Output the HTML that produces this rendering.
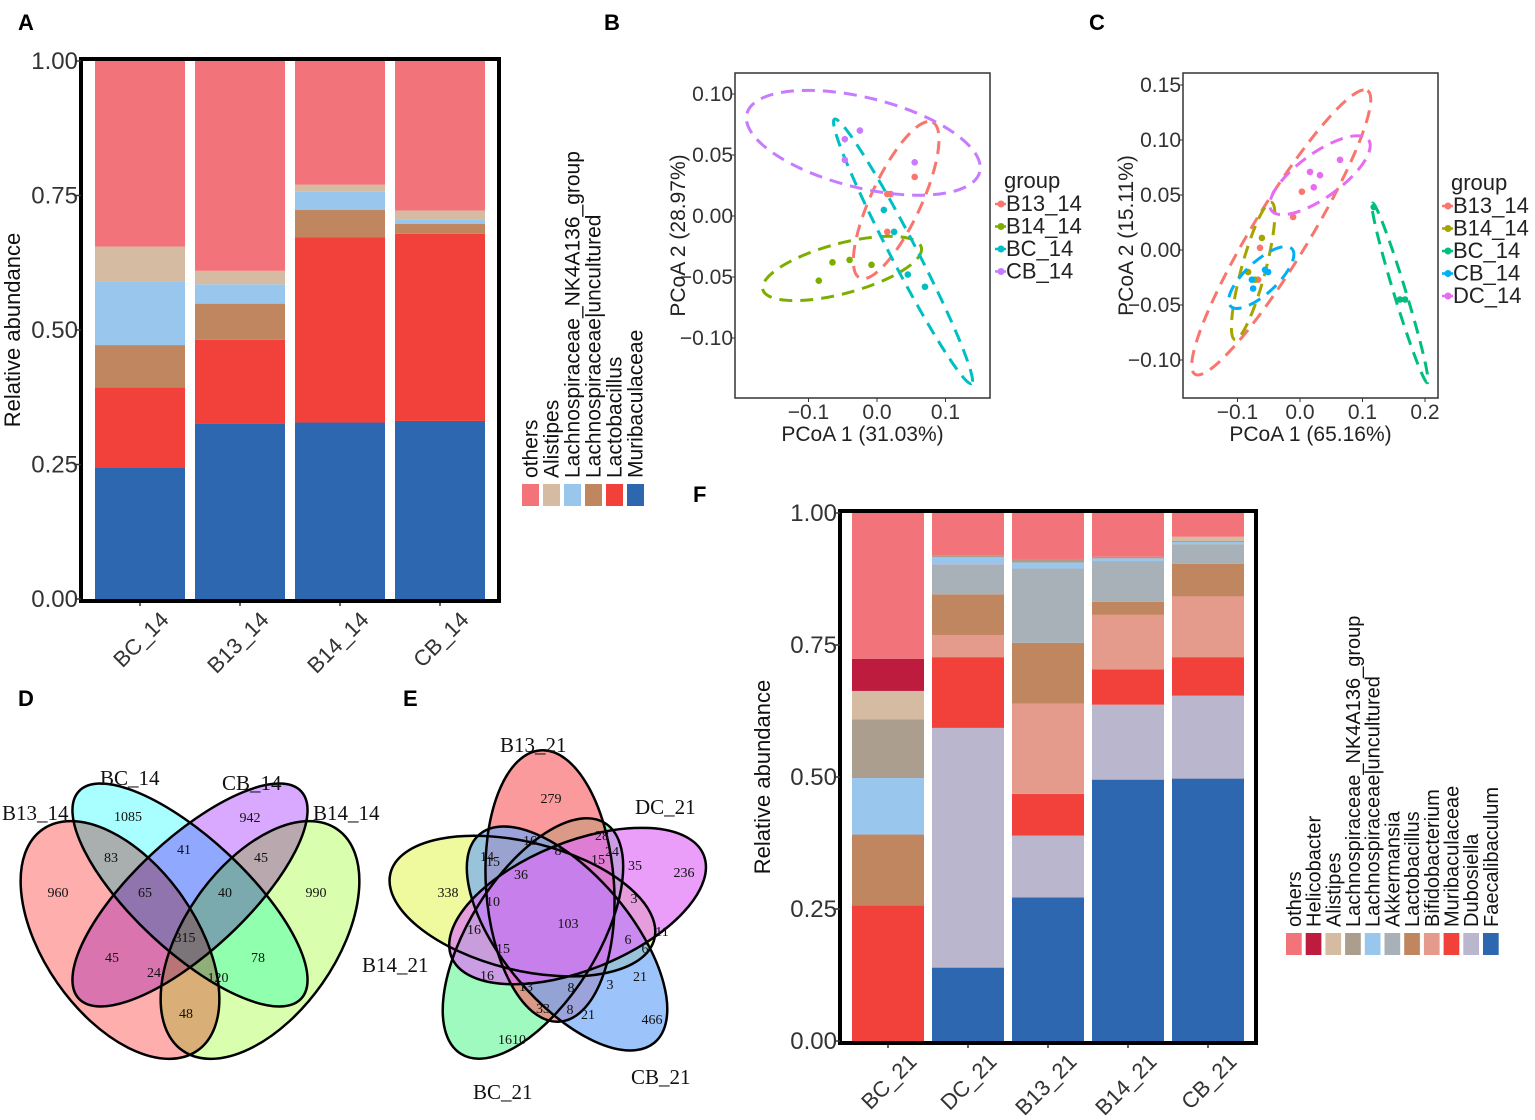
<!DOCTYPE html>
<html><head><meta charset="utf-8">
<style>
html,body{margin:0;padding:0;background:#fff;}
svg{display:block;font-family:"Liberation Sans",Arial,sans-serif;}
.serif{font-family:"Liberation Serif","Times New Roman",serif;}
.mult{mix-blend-mode:multiply;}
</style></head>
<body>
<svg id="fig" width="1535" height="1120" viewBox="0 0 1535 1120" xmlns="http://www.w3.org/2000/svg"></svg>
<script>
// ===== Panel A data =====
const aCats = ["BC_14","B13_14","B14_14","CB_14"];
const aSeries = ["Muribaculaceae","Lactobacillus","Lachnospiraceae|uncultured","Lachnospiraceae_NK4A136_group","Alistipes","others"];
const aMurib = [0.245,0.326,0.328,0.331];
const aLacto = [0.148,0.156,0.344,0.348];
const aLachUnc = [0.079,0.067,0.051,0.018];
const aLachNK = [0.118,0.036,0.034,0.009];
const aAlist = [0.065,0.025,0.013,0.016];
const aOthers = [0.345,0.390,0.230,0.278];
const yTicks = [0,0.25,0.5,0.75,1];
const yTickLabels = ["0.00","0.25","0.50","0.75","1.00"];
// ===== Panel F data =====
const fCats = ["BC_21","DC_21","B13_21","B14_21","CB_21"];
const fSeries = ["Faecalibaculum","Dubosiella","Muribaculaceae","Bifidobacterium","Lactobacillus","Akkermansia","Lachnospiraceae|uncultured","Lachnospiraceae_NK4A136_group","Alistipes","Helicobacter","others"];
const fFaecal = [0,0.139,0.272,0.495,0.497];
const fDubos = [0,0.454,0.117,0.142,0.157];
const fMurib = [0.257,0.134,0.079,0.067,0.073];
const fBifido = [0,0.042,0.171,0.103,0.115];
const fLacto = [0.134,0.077,0.115,0.025,0.062];
const fAkker = [0,0.057,0.141,0.077,0.037];
const fLachUnc = [0.107,0.013,0.011,0.005,0.004];
const fLachNK = [0.111,0.003,0.006,0.003,0.002];
const fAlist = [0.054,0,0,0,0.008];
const fHelico = [0.061,0,0,0,0];
const fOthers = [0.276,0.081,0.088,0.083,0.045];
// ===== Panel B data (PCoA) =====
const bGroups = ["B13_14","B14_14","BC_14","CB_14"];
const bX_B13 = [0.015,0.020,0.055,0.015];
const bY_B13 = [0.018,0.018,0.032,-0.013];
const bX_B14 = [-0.085,-0.065,-0.040,-0.008];
const bY_B14 = [-0.053,-0.038,-0.036,-0.040];
const bX_BC = [0.010,0.025,0.045,0.070];
const bY_BC = [0.005,-0.013,-0.048,-0.058];
const bX_CB = [-0.047,-0.025,-0.047,0.055];
const bY_CB = [0.063,0.070,0.046,0.044];
const bEllCx = [0.028,-0.051,0.038,-0.020];
const bEllCy = [0.013,-0.043,-0.029,0.060];
const bXTicks = [-0.1,0,0.1];
const bXTickLabels = ["\u22120.1","0.0","0.1"];
const bYTicks = [0.1,0.05,0,-0.05,-0.1];
const bYTickLabels = ["0.10","0.05","0.00","\u22120.05","\u22120.10"];
// ===== Panel C data (PCoA) =====
const cGroups = ["B13_14","B14_14","BC_14","CB_14","DC_14"];
const cX_B13 = [0.003,-0.011,-0.064,-0.067];
const cY_B13 = [0.053,0.030,0.002,-0.027];
const cX_B14 = [-0.061,-0.083,-0.072];
const cY_B14 = [0.011,-0.020,-0.027];
const cX_BC = [0.160,0.168,0.118];
const cY_BC = [-0.045,-0.045,0.039];
const cX_CB = [-0.056,-0.051,-0.077,-0.075];
const cY_CB = [-0.018,-0.020,-0.027,-0.035];
const cX_DC = [0.064,0.016,0.032,0.022];
const cY_DC = [0.082,0.071,0.068,0.057];
const cEllCx = [-0.030,-0.075,0.160,-0.062,0.032];
const cEllCy = [0.016,-0.019,-0.039,-0.025,0.068];
const cXTicks = [-0.1,0,0.1,0.2];
const cXTickLabels = ["\u22120.1","0.0","0.1","0.2"];
const cYTicks = [0.15,0.1,0.05,0,-0.05,-0.1];
const cYTickLabels = ["0.15","0.10","0.05","0.00","\u22120.05","\u22120.10"];

const NS="http://www.w3.org/2000/svg";
const svg=document.getElementById('fig');
function mk(tag,attrs,parent){const e=document.createElementNS(NS,tag);for(const k in attrs)e.setAttribute(k,attrs[k]);(parent||svg).appendChild(e);return e;}
function txt(x,y,s,size,extra,parent){const t=mk('text',Object.assign({x:x,y:y,'font-size':size,fill:'#222'},extra||{}),parent);t.textContent=s;return t;}

[["A",18,30],["B",604,30],["C",1089,30],["D",18,706],["E",403,706],["F",693,502]].forEach(p=>{
  const t=txt(p[1],p[2],p[0],22,{'font-weight':'bold',fill:'#000'});
  
  
});

function stacked(opt){
  const g=mk('g',{});
  
  
  const y=v=>opt.y0-v*(opt.y0-opt.y1);
  const band=(opt.r1-opt.r0)/opt.cats.length;
  const xc=i=>opt.r0+band*(i+0.5);
  opt.cats.forEach((c,i)=>{
    let acc=0;
    opt.series.forEach((s,si)=>{
      const v=opt.vals[si][i];
      if(v>0){
        const r=mk('rect',{x:xc(i)-opt.bw/2,y:y(acc+v),width:opt.bw,height:Math.max(0,y(acc)-y(acc+v)),fill:opt.colors[si]},g);
        
        
      }
      acc+=v;
    });
    mk('line',{x1:xc(i),x2:xc(i),y1:opt.y0+2,y2:opt.y0+7,stroke:'#333','stroke-width':1.5},g);
    const t=txt(0,0,c,22,{'text-anchor':'end',transform:`translate(${xc(i)+30},${opt.y0+22}) rotate(-45)`,fill:'#333'},g);
    
    
  });
  const fr=mk('rect',{x:opt.x0,y:opt.y1-2,width:opt.x1-opt.x0,height:opt.y0-opt.y1+4,fill:'none',stroke:'#000','stroke-width':4},g);
  
  
  yTicks.forEach((v,i)=>{
    mk('line',{x1:opt.x0-5,x2:opt.x0,y1:y(v),y2:y(v),stroke:'#333','stroke-width':1.5},g);
    const t=txt(opt.x0-3,y(v)+8,yTickLabels[i],24,{'text-anchor':'end',fill:'#333'},g);
    
    
  });
  const yt=txt(0,0,"Relative abundance",22,{'text-anchor':'middle',transform:`translate(${opt.ytx},${(opt.y0+opt.y1)/2}) rotate(-90)`,fill:'#111'},g);
  
  
  const lg=mk('g',{},g);
  
  
  const n=opt.series.length;
  for(let k=0;k<n;k++){
    const si=n-1-k;
    const lx=opt.lx+k*opt.lstep;
    const r=mk('rect',{x:lx,y:opt.ly,width:opt.lstep-4,height:22,fill:opt.colors[si]},lg);
    
    
    const t=txt(0,0,opt.labels[si],opt.lfs,{transform:`translate(${lx+(opt.lstep-4)/2+7},${opt.ly-6}) rotate(-90)`,fill:'#111'},lg);
    
    
  }
}
stacked({name:'panel-a-stacked-bar',cats:aCats,series:aSeries,
  labels:["Muribaculaceae","Lactobacillus","Lachnospiraceae|uncultured","Lachnospiraceae_NK4A136_group","Alistipes","others"],
  vals:[aMurib,aLacto,aLachUnc,aLachNK,aAlist,aOthers],
  colors:["#2C67AF","#F2403B","#C08660","#99C6EC","#D4BBA2","#F2737A"],
  x0:81,x1:499,r0:90,r1:490,y0:599,y1:61,bw:90,ytx:20,lx:522,lstep:21,ly:484,lfs:21});
stacked({name:'panel-f-stacked-bar',cats:fCats,series:fSeries,
  labels:fSeries,
  vals:[fFaecal,fDubos,fMurib,fBifido,fLacto,fAkker,fLachUnc,fLachNK,fAlist,fHelico,fOthers],
  colors:["#2C67AF","#BAB6CE","#F2403B","#E59B8C","#C08660","#A8B1B7","#99C6EC","#AC9E8E","#D4BBA2","#BD1C3F","#F2737A"],
  x0:840,x1:1256,r0:848,r1:1248,y0:1041,y1:513,bw:72,ytx:770,lx:1286,lstep:19.7,ly:933,lfs:20});

function pcoa(opt){
  const g=mk('g',{});
  
  
  const X=v=>opt.ox+v*opt.sx, Y=v=>opt.oy-v*opt.sy;
  const fr=mk('rect',{x:opt.fx0,y:opt.fy0,width:opt.fx1-opt.fx0,height:opt.fy1-opt.fy0,fill:'#fff',stroke:'#333','stroke-width':1.5},g);
  
  
  opt.groups.forEach((gr,i)=>{
    const e=opt.ell[i];
    const el=mk('ellipse',{cx:X(opt.ecx[i]),cy:Y(opt.ecy[i]),rx:e[0],ry:e[1],transform:`rotate(${e[2]} ${X(opt.ecx[i])} ${Y(opt.ecy[i])})`,fill:'none',stroke:opt.colors[i],'stroke-width':3,'stroke-dasharray':'13 8'},g);
    
    
    opt.xs[i].forEach((xv,j)=>{
      const c=mk('circle',{cx:X(xv),cy:Y(opt.ys[i][j]),r:3.3,fill:opt.colors[i]},g);
      
      
    });
  });
  opt.xt.forEach((v,i)=>{
    mk('line',{x1:X(v),x2:X(v),y1:opt.fy1,y2:opt.fy1+4,stroke:'#333'},g);
    const t=txt(X(v),opt.fy1+21,opt.xtl[i],21,{'text-anchor':'middle',fill:'#333'},g);
    
    
  });
  opt.yt.forEach((v,i)=>{
    mk('line',{x1:opt.fx0-4,x2:opt.fx0,y1:Y(v),y2:Y(v),stroke:'#333'},g);
    const t=txt(opt.fx0-2,Y(v)+7,opt.ytl[i],21,{'text-anchor':'end',fill:'#333'},g);
    
    
  });
  const xt=txt((opt.fx0+opt.fx1)/2,opt.fy1+43,opt.xtitle,21,{'text-anchor':'middle',fill:'#222'},g);
  
  
  const yt=txt(0,0,opt.ytitle,21,{'text-anchor':'middle',transform:`translate(${opt.fx0-50},${(opt.fy0+opt.fy1)/2}) rotate(-90)`,fill:'#222'},g);
  
  
  const lg=mk('g',{},g);
  
  
  txt(opt.lx,opt.ly,'group',22,{fill:'#222'},lg);
  opt.groups.forEach((gr,i)=>{
    const yy=opt.ly+23+i*22.5;
    mk('line',{x1:opt.lx-9,x2:opt.lx+2,y1:yy-7,y2:yy-7,stroke:opt.colors[i],'stroke-width':2.5},lg);
    mk('circle',{cx:opt.lx-3,cy:yy-7,r:3.5,fill:opt.colors[i]},lg);
    const t=txt(opt.lx+2,yy,gr,22,{fill:'#222'},lg);
    
    
  });
}
pcoa({name:'panel-b-pcoa',groups:bGroups,colors:["#F8766D","#7CAE00","#00BFC4","#C77CFF"],
  xs:[bX_B13,bX_B14,bX_BC,bX_CB],ys:[bY_B13,bY_B14,bY_BC,bY_CB],ecx:bEllCx,ecy:bEllCy,
  ell:[[86,25,-65],[82,25,-15],[149,13,62.6],[120,45,14]],
  ox:877,sx:685,oy:216,sy:1220,fx0:735,fx1:990,fy0:73,fy1:398,
  xt:bXTicks,xtl:bXTickLabels,yt:bYTicks,ytl:bYTickLabels,
  xtitle:"PCoA 1 (31.03%)",ytitle:"PCoA 2 (28.97%)",lx:1004,ly:188});
pcoa({name:'panel-c-pcoa',groups:cGroups,colors:["#F8766D","#A3A500","#00BF7D","#00B0F6","#E76BF3"],
  xs:[cX_B13,cX_B14,cX_BC,cX_CB,cX_DC],ys:[cY_B13,cY_B14,cY_BC,cY_CB,cY_DC],ecx:cEllCx,ecy:cEllCy,
  ell:[[166,28,-58.7],[71,12,-75],[94,6,73],[42,16,-43],[60,22,-36]],
  ox:1300,sx:625,oy:250,sy:1100,fx0:1183,fx1:1438,fy0:73,fy1:398,
  xt:cXTicks,xtl:cXTickLabels,yt:cYTicks,ytl:cYTickLabels,
  xtitle:"PCoA 1 (65.16%)",ytitle:"PCoA 2 (15.11%)",lx:1451,ly:190});

// ---- Venn D
(function(){
  const g=mk('g',{class:'serif'});
  
  
  const sets=[["B13_14",120,940,135,76,55,"#FF7878"],["B14_14",260,940,135,76,-55,"#C0FF78"],["BC_14",190,895,152,56,43,"#70FFFF"],["CB_14",190,895,152,56,-43,"#C070FF"]];
  const fg=mk('g',{style:'isolation:isolate'},g);
  sets.forEach(s=>{
    const e=mk('ellipse',{cx:s[1],cy:s[2],rx:s[3],ry:s[4],transform:`rotate(${s[5]} ${s[1]} ${s[2]})`,fill:s[6],'fill-opacity':0.6,class:'mult'},fg);
    
    
  });
  sets.forEach(s=>mk('ellipse',{cx:s[1],cy:s[2],rx:s[3],ry:s[4],transform:`rotate(${s[5]} ${s[1]} ${s[2]})`,fill:'none',stroke:'#000','stroke-width':2.5},g));
  [["B13_14",2,820],["BC_14",100,785],["CB_14",222,790],["B14_14",313,820]].forEach(l=>{
    const t=txt(l[1],l[2],l[0],21,{fill:'#111'},g);
    
    
  });
  [["960",58,897],["1085",128,821],["83",111,862],["41",184,854],["942",250,822],["45",261,862],["65",145,897],["40",225,897],["990",316,897],["315",185,942],["45",112,962],["78",258,962],["24",154,977],["120",218,982],["48",186,1018]].forEach(n=>{
    const t=txt(n[1],n[2],n[0],14,{'text-anchor':'middle',fill:'#111'},g);
    
    
  });
})();

// ---- Venn E
(function(){
  const g=mk('g',{class:'serif'});
  
  
  const names=["B13_21","DC_21","CB_21","BC_21","B14_21"];
  const cols=["#F86A6E","#E070F8","#6FA8F8","#70F8A0","#E8F870"];
  const order=[4,3,0,2,1];
  const P=[550,915],d=29;
  const geo=names.map((n,i)=>{const th=i*72*Math.PI/180;return [P[0]+d*Math.sin(th),P[1]-d*Math.cos(th),i*72];});
  order.forEach(i=>{
    const n=names[i];
    const e=mk('ellipse',{cx:geo[i][0],cy:geo[i][1],rx:64,ry:136,transform:`rotate(${geo[i][2]-4} ${geo[i][0]} ${geo[i][1]})`,fill:cols[i],'fill-opacity':0.68},g);
    
    
  });
  names.forEach((n,i)=>mk('ellipse',{cx:geo[i][0],cy:geo[i][1],rx:64,ry:136,transform:`rotate(${geo[i][2]-4} ${geo[i][0]} ${geo[i][1]})`,fill:'none',stroke:'#000','stroke-width':2.5},g));
  [["B13_21",500,752],["DC_21",635,814],["B14_21",362,972],["CB_21",631,1084],["BC_21",473,1099]].forEach(l=>{
    const t=txt(l[1],l[2],l[0],21,{fill:'#111'},g);
    
    
  });
  [["279",551,803],["338",448,897],["236",684,877],["466",652,1024],["1610",512,1044],["103",568,928],["16",530,845],["28",602,840],["8",558,855],["14",487,861],["24",612,856],["15",598,864],["35",635,870],["15",493,866],["36",521,879],["10",493,906],["3",634,903],["16",474,934],["6",628,944],["11",662,936],["15",503,953],["6",645,953],["16",487,980],["13",526,991],["8",571,992],["3",610,989],["21",640,981],["33",543,1013],["8",570,1014],["21",588,1019]].forEach(n=>{
    const t=txt(n[1],n[2],n[0],14,{'text-anchor':'middle',fill:'#111'},g);
    
    
  });
})();
</script>
</body></html>
